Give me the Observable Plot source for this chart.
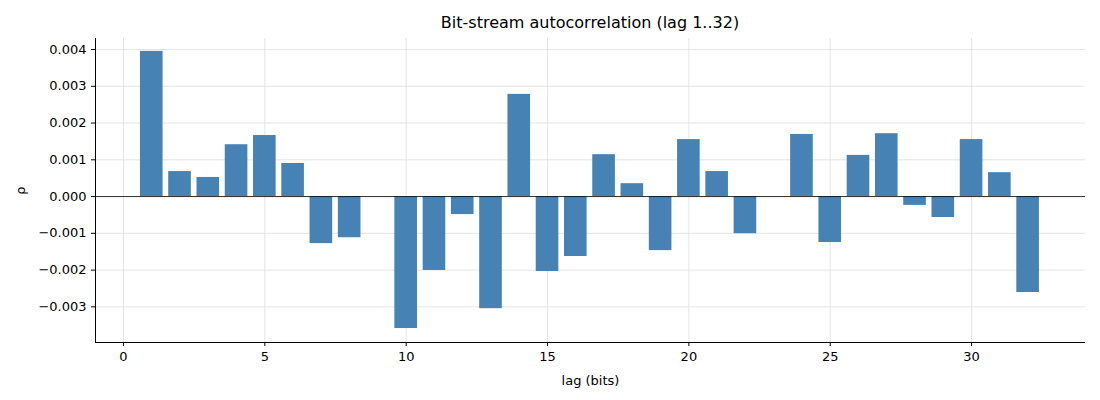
<!DOCTYPE html>
<html><head><meta charset="utf-8">
<script src="https://cdn.jsdelivr.net/npm/d3@7"></script>
<script src="https://cdn.jsdelivr.net/npm/@observablehq/plot@0.6"></script>
<style>
body{margin:0;background:#fff;font-family:"DejaVu Sans",sans-serif;}
#title{height:38px;width:1100px;box-sizing:border-box;padding-top:13px;padding-left:80px;text-align:center;font-size:16px;color:#000;}
</style></head><body>
<div id="title">Bit-stream autocorrelation (lag 1..32)</div>
<div id="chart"></div>
<script>
const lags = d3.range(1, 33);
const rho = [0.00395,0.00068,0.00052,0.00141,0.00166,0.00090,-0.00128,-0.00112,0,-0.00359,-0.00201,-0.00049,-0.00305,0.00278,-0.00204,-0.00163,0.00114,0.00035,-0.00147,0.00155,0.00068,-0.00101,0,0.00169,-0.00125,0.00112,0.00171,-0.00024,-0.00057,0.00155,0.00065,-0.00261];
const xTicks = [0,5,10,15,20,25,30];
const yTicks = [-0.003,-0.002,-0.001,0,0.001,0.002,0.003,0.004];
const data = lags.map((l,i)=>({lag:l, rho:rho[i]}));
const chart = Plot.plot({
  width:1100, height:362,
  marginLeft:95, marginRight:15, marginTop:0, marginBottom:58,
  style:{fontFamily:"DejaVu Sans, sans-serif", fontSize:"13px", color:"#000", background:"#fff"},
  x:{domain:[-0.99,34.03], ticks:xTicks, tickFormat:d=>d, label:"lag (bits)", labelAnchor:"center", labelArrow:"none", labelOffset:42, tickSize:4},
  y:{domain:[-0.00397,0.0043], ticks:yTicks, tickFormat:d=>d3.format(".3f")(d).replace("-","\u2212"), label:"ρ", labelAnchor:"center", labelArrow:"none", labelOffset:80, tickSize:4},
  marks:[
    Plot.gridX(xTicks,{stroke:"#ddd", strokeOpacity:1, strokeWidth:0.8}),
    Plot.gridY(yTicks,{stroke:"#ddd", strokeOpacity:1, strokeWidth:0.8}),
    Plot.rectY(data,{x1:d=>d.lag-0.4, x2:d=>d.lag+0.4, y1:0, y2:"rho", fill:"#4682b4"}),
    Plot.ruleY([0],{stroke:"#000", strokeWidth:0.8}),
    Plot.ruleX([-0.99],{stroke:"#000", strokeWidth:1}),
    Plot.ruleY([-0.00397],{stroke:"#000", strokeWidth:1})
  ]
});
document.getElementById("chart").appendChild(chart);
</script></body></html>
